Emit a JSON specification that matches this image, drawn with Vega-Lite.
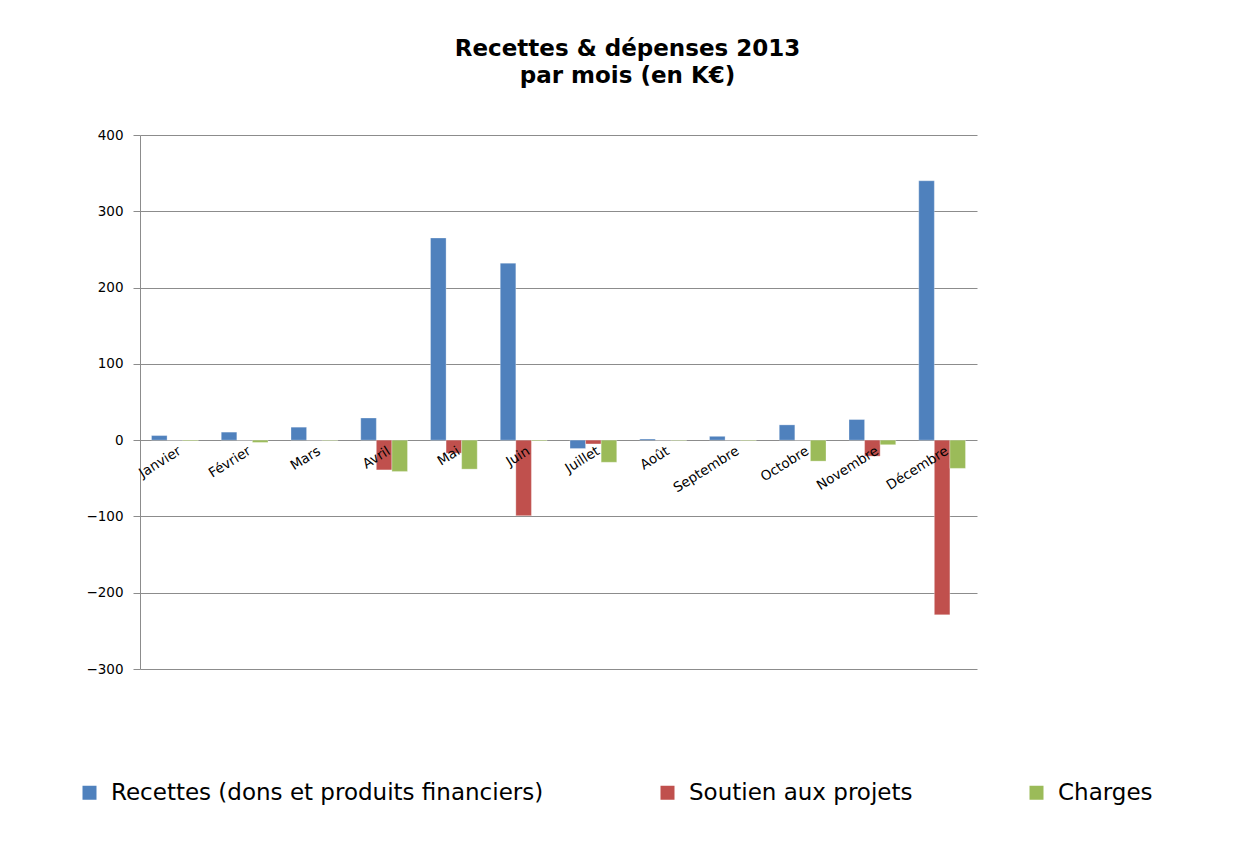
{
  "$schema": "https://vega.github.io/schema/vega-lite/v6.json",
  "width": 837,
  "height": 534,
  "autosize": {"type": "none"},
  "padding": {"left": 140, "top": 135, "right": 265, "bottom": 179},
  "background": "white",
  "title": {
    "text": ["Recettes & dépenses 2013", "par mois (en K€)"],
    "font": "DejaVu Sans",
    "fontSize": 23,
    "fontWeight": "bold",
    "color": "#000000",
    "anchor": "middle",
    "frame": "group",
    "dx": 69,
    "offset": 40,
    "lineHeight": 27
  },
  "data": {
    "values": [
      {"mois": "Janvier", "serie": "Recettes (dons et produits financiers)", "valeur": 6},
      {"mois": "Janvier", "serie": "Soutien aux projets", "valeur": 0},
      {"mois": "Janvier", "serie": "Charges", "valeur": -1},
      {"mois": "Février", "serie": "Recettes (dons et produits financiers)", "valeur": 10.5},
      {"mois": "Février", "serie": "Soutien aux projets", "valeur": 0},
      {"mois": "Février", "serie": "Charges", "valeur": -3},
      {"mois": "Mars", "serie": "Recettes (dons et produits financiers)", "valeur": 17},
      {"mois": "Mars", "serie": "Soutien aux projets", "valeur": 0},
      {"mois": "Mars", "serie": "Charges", "valeur": -0.7},
      {"mois": "Avril", "serie": "Recettes (dons et produits financiers)", "valeur": 29},
      {"mois": "Avril", "serie": "Soutien aux projets", "valeur": -39},
      {"mois": "Avril", "serie": "Charges", "valeur": -41},
      {"mois": "Mai", "serie": "Recettes (dons et produits financiers)", "valeur": 265},
      {"mois": "Mai", "serie": "Soutien aux projets", "valeur": -17},
      {"mois": "Mai", "serie": "Charges", "valeur": -38},
      {"mois": "Juin", "serie": "Recettes (dons et produits financiers)", "valeur": 232},
      {"mois": "Juin", "serie": "Soutien aux projets", "valeur": -99},
      {"mois": "Juin", "serie": "Charges", "valeur": -1},
      {"mois": "Juillet", "serie": "Recettes (dons et produits financiers)", "valeur": -11},
      {"mois": "Juillet", "serie": "Soutien aux projets", "valeur": -5},
      {"mois": "Juillet", "serie": "Charges", "valeur": -29},
      {"mois": "Août", "serie": "Recettes (dons et produits financiers)", "valeur": 1.5},
      {"mois": "Août", "serie": "Soutien aux projets", "valeur": 0},
      {"mois": "Août", "serie": "Charges", "valeur": -0.7},
      {"mois": "Septembre", "serie": "Recettes (dons et produits financiers)", "valeur": 5},
      {"mois": "Septembre", "serie": "Soutien aux projets", "valeur": 0},
      {"mois": "Septembre", "serie": "Charges", "valeur": -0.8},
      {"mois": "Octobre", "serie": "Recettes (dons et produits financiers)", "valeur": 20},
      {"mois": "Octobre", "serie": "Soutien aux projets", "valeur": 0},
      {"mois": "Octobre", "serie": "Charges", "valeur": -27.5},
      {"mois": "Novembre", "serie": "Recettes (dons et produits financiers)", "valeur": 27},
      {"mois": "Novembre", "serie": "Soutien aux projets", "valeur": -21},
      {"mois": "Novembre", "serie": "Charges", "valeur": -6},
      {"mois": "Décembre", "serie": "Recettes (dons et produits financiers)", "valeur": 340},
      {"mois": "Décembre", "serie": "Soutien aux projets", "valeur": -229},
      {"mois": "Décembre", "serie": "Charges", "valeur": -37}
    ]
  },
  "layer": [
    {
      "mark": {"type": "bar", "stroke": "white", "strokeWidth": 0.5, "strokeOpacity": 0.6},
      "encoding": {
        "x": {
          "field": "mois",
          "type": "nominal",
          "sort": ["Janvier", "Février", "Mars", "Avril", "Mai", "Juin", "Juillet", "Août", "Septembre", "Octobre", "Novembre", "Décembre"],
          "scale": {"paddingInner": 0.33, "paddingOuter": 0.165},
          "axis": null
        },
        "xOffset": {
          "field": "serie",
          "type": "nominal",
          "sort": ["Recettes (dons et produits financiers)", "Soutien aux projets", "Charges"],
          "scale": {"paddingInner": 0, "paddingOuter": 0}
        },
        "y": {
          "field": "valeur",
          "type": "quantitative",
          "scale": {"domain": [-300, 400], "nice": false},
          "axis": {
            "values": [-300, -200, -100, 0, 100, 200, 300, 400],
            "title": null,
            "grid": true,
            "gridColor": "#8c8c8c",
            "gridWidth": 1,
            "domainColor": "#8c8c8c",
            "tickColor": "#8c8c8c",
            "tickSize": 7,
            "labelFont": "DejaVu Sans",
            "labelFontSize": 13.5,
            "labelColor": "#000000",
            "labelPadding": 10
          }
        },
        "color": {
          "field": "serie",
          "type": "nominal",
          "sort": ["Recettes (dons et produits financiers)", "Soutien aux projets", "Charges"],
          "scale": {
            "domain": ["Recettes (dons et produits financiers)", "Soutien aux projets", "Charges"],
            "range": ["#4F81BD", "#C0504D", "#9BBB59"]
          },
          "legend": {
            "title": null,
            "orient": "none",
            "direction": "horizontal",
            "columns": 3,
            "legendX": -62,
            "legendY": 646,
            "symbolType": "square",
            "symbolSize": 196,
            "symbolStrokeWidth": 0,
            "labelFont": "DejaVu Sans",
            "labelFontSize": 23,
            "labelColor": "#000000",
            "labelOffset": 10,
            "columnPadding": 112,
            "labelLimit": 700
          }
        }
      }
    },
    {
      "transform": [{"filter": "datum.serie === 'Charges'"}],
      "mark": {
        "type": "text",
        "angle": -32,
        "align": "right",
        "baseline": "top",
        "font": "DejaVu Sans",
        "fontSize": 13.5,
        "color": "#000000",
        "dx": -1,
        "dy": 4
      },
      "encoding": {
        "x": {
          "field": "mois",
          "type": "nominal",
          "sort": ["Janvier", "Février", "Mars", "Avril", "Mai", "Juin", "Juillet", "Août", "Septembre", "Octobre", "Novembre", "Décembre"]
        },
        "y": {"datum": 0},
        "text": {"field": "mois"}
      }
    }
  ],
  "config": {
    "view": {"stroke": null}
  }
}
